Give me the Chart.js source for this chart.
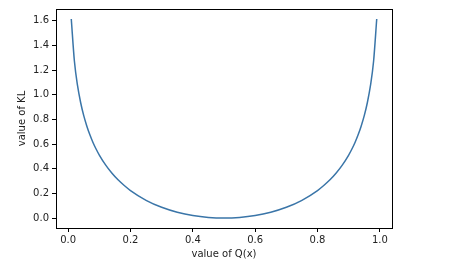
<!DOCTYPE html>
<html>
<head>
<script src="https://cdn.jsdelivr.net/npm/chart.js"></script>
<style>
  html, body { margin: 0; padding: 0; background: #fff; }
  #wrap { width: 456px; height: 267px; }
</style>
</head>
<body>
<div id="wrap"><canvas id="myChart" width="456" height="267"></canvas></div>
<script>
// Q(x) values and KL
const qValues = [0.01, 0.02, 0.03, 0.04, 0.05, 0.06, 0.07, 0.08, 0.09, 0.10,
  0.12, 0.14, 0.16, 0.18, 0.20, 0.25, 0.30, 0.35, 0.40, 0.45, 0.50,
  0.55, 0.60, 0.65, 0.70, 0.75, 0.80, 0.82, 0.84, 0.86, 0.88,
  0.90, 0.91, 0.92, 0.93, 0.94, 0.95, 0.96, 0.97, 0.98, 0.99];
const klValues = [1.614, 1.273, 1.075, 0.937, 0.830, 0.745, 0.673, 0.611, 0.558, 0.511,
  0.431, 0.365, 0.310, 0.264, 0.223, 0.144, 0.087, 0.047, 0.020, 0.005, 0.000,
  0.005, 0.020, 0.047, 0.087, 0.144, 0.223, 0.264, 0.310, 0.365, 0.431,
  0.511, 0.558, 0.611, 0.673, 0.745, 0.830, 0.937, 1.075, 1.273, 1.614];
const xTicks = [0.0, 0.2, 0.4, 0.6, 0.8, 1.0];
const yTicks = [0.0, 0.2, 0.4, 0.6, 0.8, 1.0, 1.2, 1.4, 1.6];

const font = { family: 'DejaVu Sans', size: 10 };

// draws the full box round the plot like matplotlib
const boxPlugin = {
  id: 'box',
  afterDraw(chart) {
    const a = chart.chartArea, ctx = chart.ctx;
    ctx.save();
    ctx.strokeStyle = '#000';
    ctx.lineWidth = 1;
    ctx.strokeRect(Math.round(a.left) + 0.5, Math.round(a.top) + 0.5,
      Math.round(a.right - a.left), Math.round(a.bottom - a.top));
    ctx.restore();
  }
};

new Chart(document.getElementById('myChart'), {
  type: 'line',
  data: {
    datasets: [{
      data: qValues.map((q, i) => ({ x: q, y: klValues[i] })),
      borderColor: '#3a75a8',
      borderWidth: 1.5,
      pointRadius: 0,
      fill: false,
      cubicInterpolationMode: 'monotone'
    }]
  },
  options: {
    responsive: false,
    animation: false,
    events: [],
    layout: { padding: { left: 16, top: 9, right: 64, bottom: 7 } },
    plugins: { legend: { display: false }, tooltip: { enabled: false } },
    scales: {
      x: {
        type: 'linear',
        min: -0.039,
        max: 1.039,
        afterBuildTicks: s => { s.ticks = xTicks.map(v => ({ value: v })); },
        afterFit: s => { s.height = 32; },
        grid: { drawOnChartArea: false, drawTicks: true, tickLength: 4, color: '#000' },
        border: { display: true, color: '#000' },
        ticks: { font: font, color: '#222', padding: 2, maxRotation: 0,
          callback: v => Number(v).toFixed(1) },
        title: { display: true, text: 'value of Q(x)', font: font, color: '#222', padding: { top: 1, bottom: 0 } }
      },
      y: {
        min: -0.0807,
        max: 1.695,
        afterBuildTicks: s => { s.ticks = yTicks.map(v => ({ value: v })); },
        afterFit: s => { s.width = 40; },
        grid: { drawOnChartArea: false, drawTicks: true, tickLength: 4, color: '#000' },
        border: { display: true, color: '#000' },
        ticks: { font: font, color: '#222', padding: 3,
          callback: v => Number(v).toFixed(1) },
        title: { display: true, text: 'value of KL', font: font, color: '#222', padding: { top: 0, bottom: 4 } }
      }
    }
  },
  plugins: [boxPlugin]
});
</script>
</body>
</html>
